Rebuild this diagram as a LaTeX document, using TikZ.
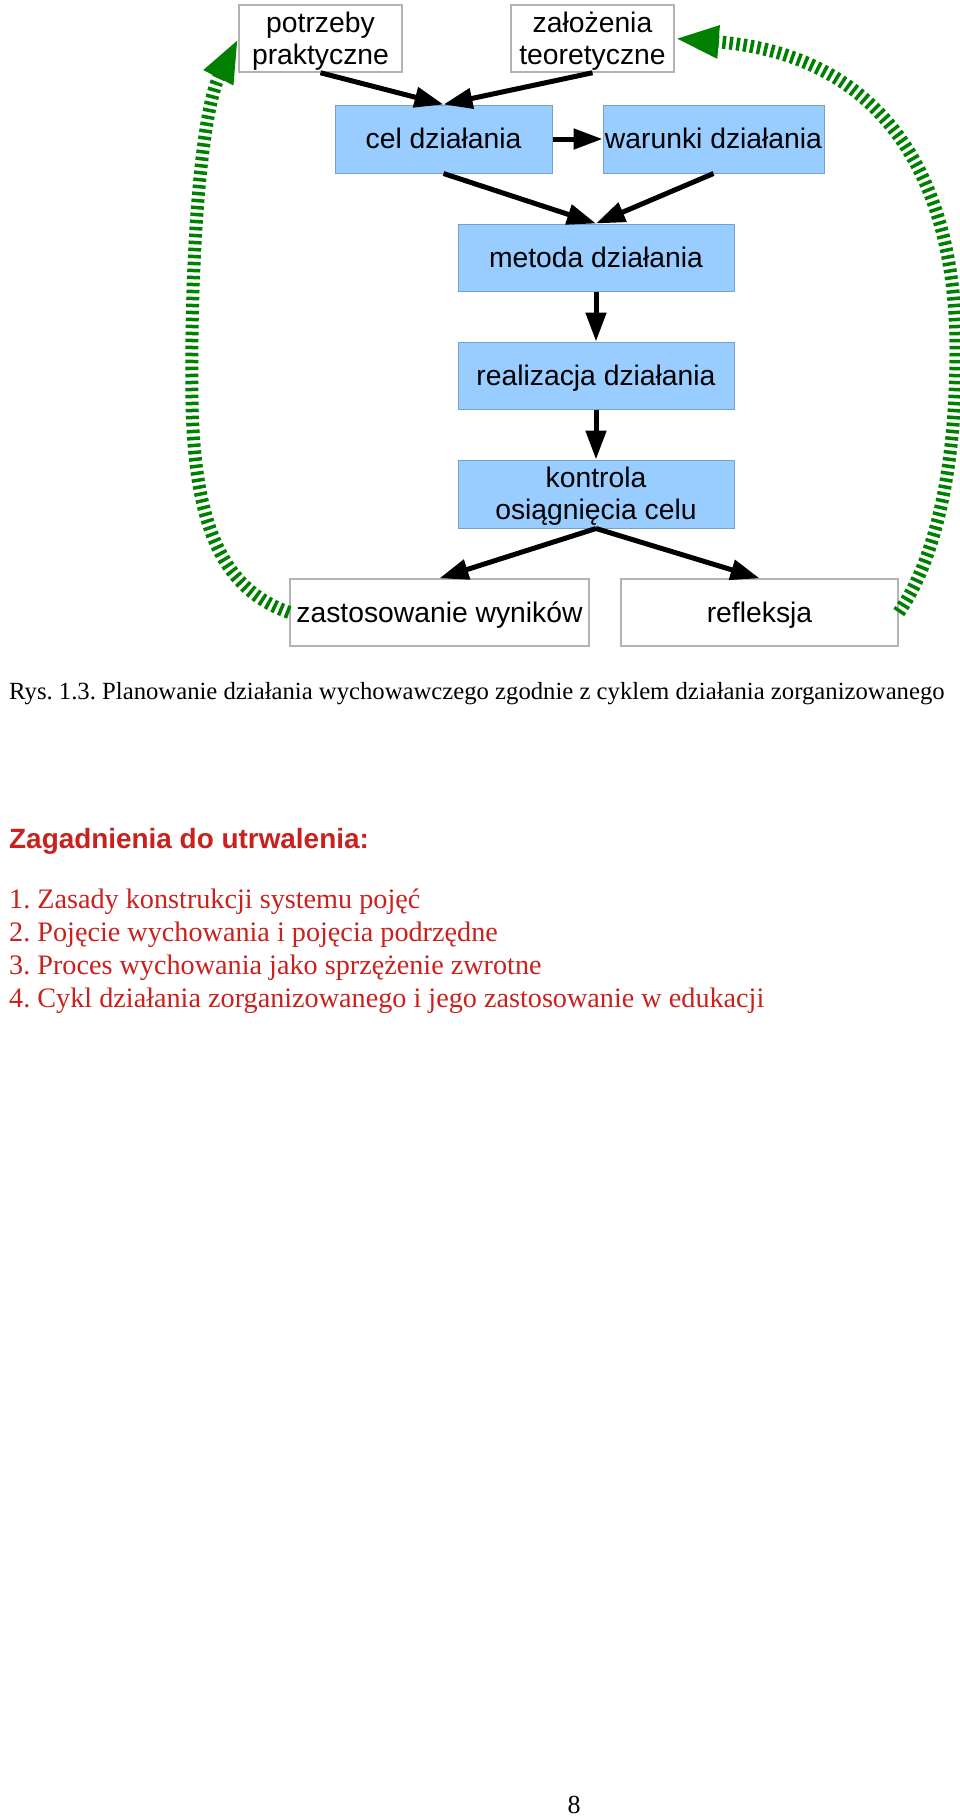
\documentclass[tikz,border=0pt]{standalone}
\usepackage{fontspec}
\setmainfont{Liberation Serif}
\newfontfamily\boxfont{Liberation Sans}
\usetikzlibrary{arrows.meta}
\definecolor{boxblue}{RGB}{153,204,255}
\definecolor{boxblueline}{RGB}{120,160,205}
\definecolor{boxgrey}{RGB}{179,179,179}
\definecolor{loopgreen}{RGB}{0,128,0}
\definecolor{textred}{RGB}{201,33,30}
\newcommand\topstrut{\rule{0pt}{25.6pt}}
\frenchspacing
\begin{document}
\begin{tikzpicture}[x=1pt,y=-1pt,
  box/.style={draw=boxgrey, line width=1.5pt, fill=white, inner sep=0pt, align=center,
    font=\boxfont\fontsize{28.3}{32}\selectfont, text=black},
  bluebox/.style={box, draw=boxblueline, line width=1pt, fill=boxblue},
  oneline/.style={text height=25.6pt, text depth=6pt},
  flow/.style={line width=5pt, draw=black, -{Triangle[length=29pt,width=20pt]}},
  loopline/.style={line width=13pt, draw=loopgreen, dash pattern=on 3.5pt off 3.5pt,
    -{Triangle[length=44pt,width=30pt]}},
  plain/.style={anchor=base west, inner sep=0pt}
]
\useasboundingbox (0,0) rectangle (960,1818);
\fill[white] (0,0) rectangle (960,1818);

% boxes
\node[box, minimum width=163pt, minimum height=67pt] (pot) at (320.5,38.5) {\topstrut potrzeby\\praktyczne};
\node[box, minimum width=163pt, minimum height=67pt] (zal) at (592.5,38.5) {\topstrut założenia\\teoretyczne};
\node[bluebox, oneline, minimum width=217pt, minimum height=68pt] (cel) at (443.5,139) {cel działania};
\node[bluebox, oneline, minimum width=221pt, minimum height=68pt] (war) at (713.5,139) {warunki działania};
\node[bluebox, oneline, minimum width=276pt, minimum height=67pt] (met) at (596,257.5) {metoda działania};
\node[bluebox, oneline, minimum width=276pt, minimum height=67pt] (real) at (596,375.5) {realizacja działania};
\node[bluebox, minimum width=276pt, minimum height=68pt] (kon) at (596,494) {\topstrut kontrola\\osiągnięcia celu};
\node[box, oneline, minimum width=299pt, minimum height=67pt] (zas) at (439.5,612.5) {zastosowanie wyników};
\node[box, oneline, minimum width=277pt, minimum height=67pt] (ref) at (759.5,612.5) {refleksja};

% flow arrows
\draw[flow] (pot.south) -- (cel.north);
\draw[flow] (zal.south) -- (cel.north);
\draw[flow] (cel.east) -- (war.west);
\draw[flow] (cel.south) -- (met.north);
\draw[flow] (war.south) -- (met.north);
\draw[flow] (met.south) -- (real.north);
\draw[flow] (real.south) -- (kon.north);
\draw[flow] (kon.south) -- (zas.north);
\draw[flow] (kon.south) -- (ref.north);

% feedback loops
\draw[loopline] (zas.west) .. controls (225,590) and (194,530) .. (192,400)
  .. controls (190,250) and (202,110) .. (pot.west);
\draw[loopline] (ref.east) .. controls (935,560) and (956,470) .. (956,350)
  .. controls (956,180) and (885,55) .. (zal.east);

% texts
\node[plain, font=\fontsize{24.7}{30}\selectfont] (cap) at (9,699)
  {Rys. 1.3. Planowanie działania wychowawczego zgodnie z cyklem działania zorganizowanego};
\node[plain, text=textred, font=\boxfont\bfseries\fontsize{27.9}{33}\selectfont] (zag) at (9,848)
  {Zagadnienia do utrwalenia:};
\node[plain, text=textred, font=\fontsize{28.2}{33}\selectfont] (it1) at (9,908)
  {1. Zasady konstrukcji systemu pojęć};
\node[plain, text=textred, font=\fontsize{28.2}{33}\selectfont] (it2) at (9,941)
  {2. Pojęcie wychowania i pojęcia podrzędne};
\node[plain, text=textred, font=\fontsize{28.2}{33}\selectfont] (it3) at (9,974)
  {3. Proces wychowania jako sprzężenie zwrotne};
\node[plain, text=textred, font=\fontsize{28.2}{33}\selectfont] (it4) at (9,1007)
  {4. Cykl działania zorganizowanego i jego zastosowanie w edukacji};
\node[anchor=base, inner sep=0pt, font=\fontsize{26}{30}\selectfont] (pg) at (574,1813) {8};
\end{tikzpicture}
\end{document}
